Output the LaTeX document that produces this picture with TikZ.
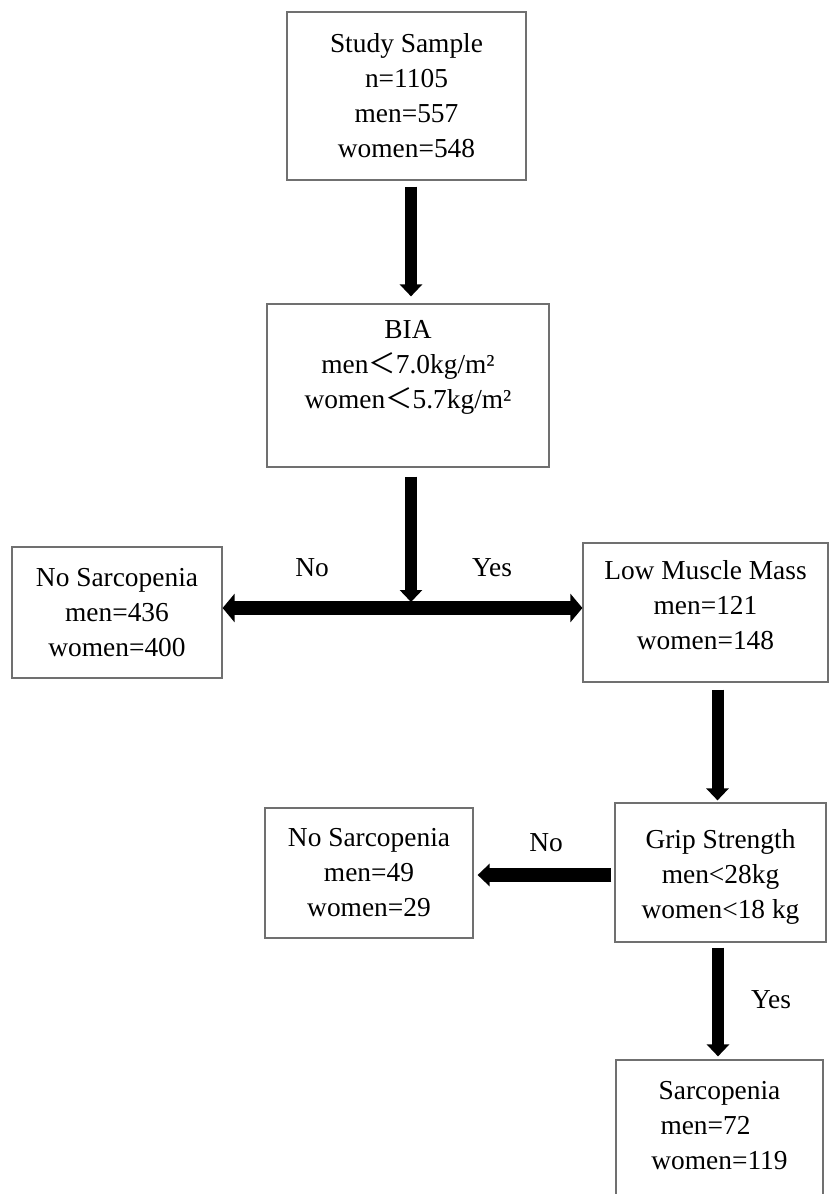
\documentclass[tikz,border=0pt]{standalone}
\usepackage{fontspec}
\setmainfont{Liberation Serif}
\newfontfamily\cjk{Noto Sans CJK SC}
\usetikzlibrary{arrows.meta}
\usetikzlibrary{positioning}
\definecolor{boxgray}{RGB}{112,112,112}

\tikzset{
  stage/.style={draw=boxgray, line width=0.6pt, inner sep=0pt, align=center},
  txt/.style={inner sep=0pt, align=center},
  flow/.style={black, line width=6pt, ->, >={Triangle[width=11pt,length=6pt]}},
  twoway/.style={black, line width=7pt, <->, >={Triangle[width=14pt,length=6pt]}}
}

\begin{document}
\begin{tikzpicture} [x=0.5pt, y=-0.5pt, font=\fontsize{13.7pt}{17.5pt}\selectfont]
\useasboundingbox (0,0) rectangle (830,1197);
\clip (0,0) rectangle (830,1193);
% boxes
\node[stage, minimum width=119.5pt, minimum height=84pt] (sample) at (406.5,96) {Study Sample\\n=1105\\men=557\\women=548};
\node[stage, minimum width=141pt, minimum height=81.5pt] (bia) at (408,385.5) {};
\node[txt] (biatext) at ([yshift=9pt]bia.center) {BIA\\men{\cjk ＜}7.0kg/m²\\women{\cjk ＜}5.7kg/m²};
\node[stage, minimum width=105pt, minimum height=65.5pt] (nosarcA) at (117,612.5) {No Sarcopenia\\men=436\\women=400};
\node[stage, minimum width=122.5pt, minimum height=69.5pt] (lowmass) at (705.5,612.5) {};
\node[txt] (lowmasstext) at ([yshift=3.5pt]lowmass.center) {Low Muscle Mass\\men=121\\women=148};
\node[stage, minimum width=105.5pt, minimum height=69.5pt] (grip) at (720.5,872.5) {};
\node[txt] (griptext) at ([yshift=-2pt]grip.center) {Grip Strength\\men<28kg\\women<18 kg};
\node[stage, minimum width=104pt, minimum height=65pt] (nosarcB) at (369,873) {No Sarcopenia\\men=49\\women=29};
\node[stage, minimum width=103.5pt, minimum height=90pt] (sarc) at (719.5,1150) {};
\node[txt] (sarctext) at ([yshift=12pt]sarc.center) {Sarcopenia\\men=72\hspace*{14pt}\mbox{}\\women=119};
% labels
\node[txt] (noA) at (312,568) {No};
\node[txt] (yesA) at (492,568) {Yes};
\node[txt] (noB) at (546,843) {No};
\node[txt] (yesB) at (771,1000) {Yes};
% arrows
\coordinate (split) at (411,608);
\draw[flow, shorten <=3pt, shorten >=3.5pt] ([xshift=2.25pt]sample.south) -- ([xshift=2.25pt]sample.south |- bia.north);
\draw[flow, shorten <=4.5pt, shorten >=3pt] (bia.south -| split) -- (split);
\draw[twoway] (split -| nosarcA.east) -- (split -| lowmass.west);
\draw[flow, shorten <=3.5pt, shorten >=1pt] ([xshift=6pt]lowmass.south) -- ([xshift=6pt]lowmass.south |- grip.north);
\draw[flow, line width=7pt, shorten <=1.5pt, shorten >=2pt] ([yshift=-1.25pt]grip.west) -- ([yshift=-1.25pt]grip.west -| nosarcB.east);
\draw[flow, shorten <=2.5pt, shorten >=1.5pt] ([xshift=-1.25pt]grip.south) -- ([xshift=-1.25pt]grip.south |- sarc.north);
\end{tikzpicture}
\end{document}
